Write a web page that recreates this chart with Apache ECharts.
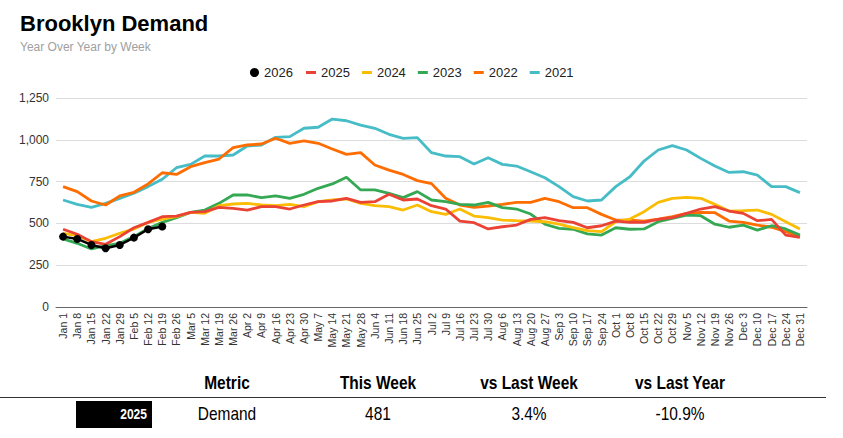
<!DOCTYPE html>
<html>
<head>
<meta charset="utf-8">
<script src="https://cdn.jsdelivr.net/npm/echarts@6/dist/echarts.min.js"></script>
<style>
html,body{margin:0;padding:0;background:#fff;}
#chart{width:843px;height:438px;}
</style>
</head>
<body>
<div id="chart"></div>
<script>
const weeks = ['Jan 1','Jan 8','Jan 15','Jan 22','Jan 29','Feb 5','Feb 12','Feb 19','Feb 26','Mar 5','Mar 12','Mar 19','Mar 26','Apr 2','Apr 9','Apr 16','Apr 23','Apr 30','May 7','May 14','May 21','May 28','Jun 4','Jun 11','Jun 18','Jun 25','Jul 2','Jul 9','Jul 16','Jul 23','Jul 30','Aug 6','Aug 13','Aug 20','Aug 27','Sep 3','Sep 10','Sep 17','Sep 24','Oct 1','Oct 8','Oct 15','Oct 22','Oct 29','Nov 5','Nov 12','Nov 19','Nov 26','Dec 3','Dec 10','Dec 17','Dec 24','Dec 31'];

const y2026 = [421,407,371,351,371,415,465,481];
const y2025 = [465,435,391,375,421,474,506,540,544,566,570,596,590,580,600,600,586,610,630,634,650,626,630,674,640,646,606,586,514,504,467,480,490,524,534,516,506,474,486,514,506,506,524,534,560,586,600,574,560,516,524,430,417];
const y2024 = [441,427,391,411,441,467,506,526,540,566,560,606,616,620,610,606,614,600,630,640,646,620,606,600,580,610,570,554,586,544,534,520,516,514,510,495,475,457,451,510,526,570,626,650,656,650,614,574,576,580,554,510,467];
const y2023 = [407,381,347,367,381,421,470,506,534,566,580,620,670,670,654,664,650,674,710,736,776,700,700,680,654,690,640,630,614,610,626,594,586,556,495,470,465,437,430,474,465,467,510,530,550,546,495,477,490,460,486,467,430];
const y2022 = [720,690,634,610,664,686,736,803,793,839,863,885,953,969,975,1009,979,993,979,945,913,923,849,819,793,756,738,650,610,596,604,614,626,626,650,630,594,594,554,520,520,514,526,540,560,566,564,514,506,490,477,451,421];
const y2021 = [640,614,596,620,650,680,720,764,833,853,903,903,909,963,969,1015,1019,1069,1075,1124,1114,1088,1069,1033,1009,1013,923,903,899,855,893,853,843,809,773,720,660,634,640,720,779,873,939,965,939,889,843,805,809,789,720,720,684];

const yTicks = [0,250,500,750,1000,1250];

const tableHeaders = ['Metric','This Week','vs Last Week','vs Last Year'];
const tableRow = ['Demand','481','3.4%','-10.9%'];
const rowYear = '2025';

const colors = {'2026':'#000000','2025':'#EA4335','2024':'#FBBC04','2023':'#34A853','2022':'#FF6D01','2021':'#46BDC6'};

const chart = echarts.init(document.getElementById('chart'), null, {renderer:'svg'});

function lineSeries(name, data, z){
  return {
    name: name, type:'line', data: data, symbol:'none', smooth:false, z: z,
    lineStyle:{width:2.8, color: colors[name]}, itemStyle:{color: colors[name]},
    emphasis:{disabled:true}
  };
}

const fam = "'Liberation Sans',Arial,sans-serif";
const colX = [227, 378, 529, 680];
const sx = 0.86;

const graphics = [];
tableHeaders.forEach((h,i)=>{
  graphics.push({type:'text', x: colX[i], y: 383, scaleX: sx,
    style:{text:h, font:"bold 18px "+fam, fill:'#000', align:'center', verticalAlign:'middle'}});
});
graphics.push({type:'line', shape:{x1:0,y1:397.5,x2:826,y2:397.5}, style:{stroke:'#333', lineWidth:1}});
graphics.push({type:'rect', shape:{x:76,y:401,width:76,height:27}, style:{fill:'#000'}});
graphics.push({type:'text', x:147, y:414.5, scaleX: sx,
  style:{text:rowYear, font:"bold 14px "+fam, fill:'#fff', align:'right', verticalAlign:'middle'}});
tableRow.forEach((v,i)=>{
  graphics.push({type:'text', x: colX[i], y: 414, scaleX: sx,
    style:{text:v, font:"18px "+fam, fill:'#000', align:'center', verticalAlign:'middle'}});
});

const option = {
  animation:false,
  backgroundColor:'#fff',
  title:{
    text:'Brooklyn Demand', subtext:'Year Over Year by Week', left:15, top:7, itemGap:7,
    textStyle:{fontSize:22, fontWeight:'bold', color:'#000', fontFamily:fam},
    subtextStyle:{fontSize:12, color:'#a0a0a0', fontFamily:fam}
  },
  legend:[
    {data:[{name:'2026', icon:'circle'}], left:245, top:61, itemWidth:9, itemHeight:9, itemGap:12,
     textStyle:{fontSize:13, color:'#222', fontFamily:fam}},
    {data:['2025','2024','2023','2022','2021'].map(n=>({name:n, icon:'rect'})), left:301, top:61, itemWidth:10, itemHeight:3, itemGap:12,
     textStyle:{fontSize:13, color:'#222', fontFamily:fam}}
  ],
  grid:{left:56, right:36, top:98, bottom:131},
  xAxis:{
    type:'category', data:weeks, boundaryGap:true,
    axisLine:{lineStyle:{color:'#666', width:1}},
    axisTick:{show:false},
    axisLabel:{interval:0, rotate:90, fontSize:10.5, color:'#333', margin:6, fontFamily:fam}
  },
  yAxis:{
    type:'value', min:yTicks[0], max:yTicks[yTicks.length-1], interval:250,
    axisLine:{show:false}, axisTick:{show:false},
    splitLine:{lineStyle:{color:'#dcdcdc', width:1}},
    axisLabel:{fontSize:12, color:'#333', margin:7, fontFamily:fam,
      formatter: v => v.toLocaleString('en-US')}
  },
  series:[
    {name:'2026', type:'line', data:y2026, symbol:'circle', symbolSize:8, showSymbol:true, z:10,
     lineStyle:{width:2.5, color:'#000'}, itemStyle:{color:'#000'}, emphasis:{disabled:true}},
    lineSeries('2025', y2025, 6),
    lineSeries('2024', y2024, 5),
    lineSeries('2023', y2023, 4),
    lineSeries('2022', y2022, 3),
    lineSeries('2021', y2021, 2)
  ],
  graphic: graphics
};
chart.setOption(option);
</script>
</body>
</html>
